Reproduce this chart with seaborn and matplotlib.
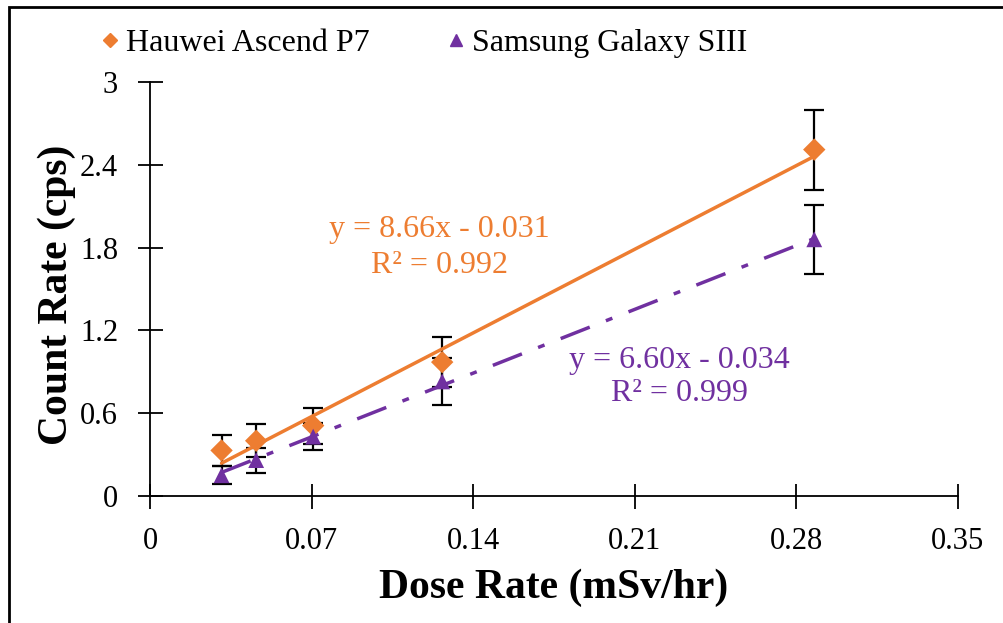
import numpy as np
import pandas as pd
import matplotlib
matplotlib.use("Agg")
import matplotlib.pyplot as plt
from matplotlib.patches import Rectangle
import seaborn as sns

# dose rate (mSv/hr)
dose = [0.031, 0.046, 0.0707, 0.1266, 0.2878]

# count rates (cps) and their uncertainties
huawei = [0.33, 0.40, 0.51, 0.97, 2.51]
huawei_err = [0.11, 0.12, 0.13, 0.18, 0.29]
samsung = [0.15, 0.26, 0.43, 0.83, 1.86]
samsung_err = [0.065, 0.09, 0.10, 0.17, 0.25]

# linear trend lines (slope, intercept, R^2)
huawei_fit = (8.66, -0.031, 0.992)
samsung_fit = (6.60, -0.034, 0.999)

x_ticks = [0, 0.07, 0.14, 0.21, 0.28, 0.35]
y_ticks = [0, 0.6, 1.2, 1.8, 2.4, 3]

orange = "#ED7D31"
purple = "#7030A0"

sns.set_style("white", {"text.color": "black", "axes.labelcolor": "black",
                        "xtick.color": "black", "ytick.color": "black",
                        "xtick.bottom": True, "ytick.left": True})
plt.rcParams["font.family"] = ["Liberation Serif", "DejaVu Serif"]

fig = plt.figure(figsize=(10.04, 6.23), dpi=100)
ax = fig.add_axes([0.1494, 0.2039, 0.8046, 0.6645])

df = pd.DataFrame({
    "dose": dose * 2,
    "rate": huawei + samsung,
    "phone": ["Hauwei Ascend P7"] * 5 + ["Samsung Galaxy SIII"] * 5,
})

# error bars
ax.errorbar(dose, huawei, yerr=huawei_err, fmt="none", ecolor="black",
            elinewidth=1.6, capsize=7, capthick=1.6, zorder=2)
ax.errorbar(dose, samsung, yerr=samsung_err, fmt="none", ecolor="black",
            elinewidth=1.6, capsize=7, capthick=1.6, zorder=2)

# trend lines
xs = np.array([min(dose), max(dose)])
sns.lineplot(x=xs, y=huawei_fit[0] * xs + huawei_fit[1], ax=ax,
             color=orange, lw=2.5, zorder=3)
sns.lineplot(x=xs, y=samsung_fit[0] * xs + samsung_fit[1], ax=ax,
             color=purple, lw=2.5, zorder=3)
ax.lines[-1].set_dashes([9, 5, 2, 5])

sns.scatterplot(data=df, x="dose", y="rate", hue="phone", style="phone",
                markers={"Hauwei Ascend P7": "D", "Samsung Galaxy SIII": "^"},
                palette={"Hauwei Ascend P7": orange, "Samsung Galaxy SIII": purple},
                s=130, edgecolor="none", ax=ax, zorder=4, legend=False)

ax.text(0.1254, 1.93, f"y = {huawei_fit[0]:.2f}x - {abs(huawei_fit[1]):.3f}",
        color=orange, fontsize=23, ha="center", va="center")
ax.text(0.1254, 1.67, f"R² = {huawei_fit[2]:.3f}", color=orange,
        fontsize=23, ha="center", va="center")
ax.text(0.2295, 0.985, f"y = {samsung_fit[0]:.2f}x - {abs(samsung_fit[1]):.3f}",
        color=purple, fontsize=23, ha="center", va="center")
ax.text(0.2295, 0.745, f"R² = {samsung_fit[2]:.3f}", color=purple,
        fontsize=23, ha="center", va="center")

ax.set_xlim(0, 0.35)
ax.set_ylim(0, 3)
ax.set_xticks(x_ticks)
ax.set_xticklabels(["0", "0.07", "0.14", "0.21", "0.28", "0.35"])
ax.set_yticks(y_ticks)
ax.set_yticklabels(["0", "0.6", "1.2", "1.8", "2.4", "3"])
ax.tick_params(direction="inout", length=18, width=1.3, labelsize=22,
               colors="black")
ax.tick_params(axis="x", pad=13)
ax.tick_params(axis="y", pad=14)
for side in ["top", "right"]:
    ax.spines[side].set_visible(False)
for side in ["left", "bottom"]:
    ax.spines[side].set_color("black")
    ax.spines[side].set_linewidth(1.3)

ax.set_xlabel("Dose Rate (mSv/hr)", fontsize=30, fontweight="bold")
ax.set_ylabel("Count Rate (cps)", fontsize=30, fontweight="bold")
ax.xaxis.set_label_coords(0.5, -0.175)
ax.yaxis.set_label_coords(-0.0915, 0.485)

# legend
handles = [
    plt.Line2D([], [], marker="D", ls="none", color=orange, markersize=7),
    plt.Line2D([], [], marker="^", ls="none", color=purple, markersize=9),
]
fig.legend(handles, ["Hauwei Ascend P7", "Samsung Galaxy SIII"], ncol=2,
           loc="center left", bbox_to_anchor=(0.068, 0.93), frameon=False,
           fontsize=23, handletextpad=0.1, columnspacing=2.3, handlelength=0.8)

# figure frame (left and top edges visible)
fig.patches.append(Rectangle((0.009, -0.05), 1.2, 1.039, transform=fig.transFigure,
                             fill=False, edgecolor="black", lw=2))

fig.savefig("out.png", dpi=100)
